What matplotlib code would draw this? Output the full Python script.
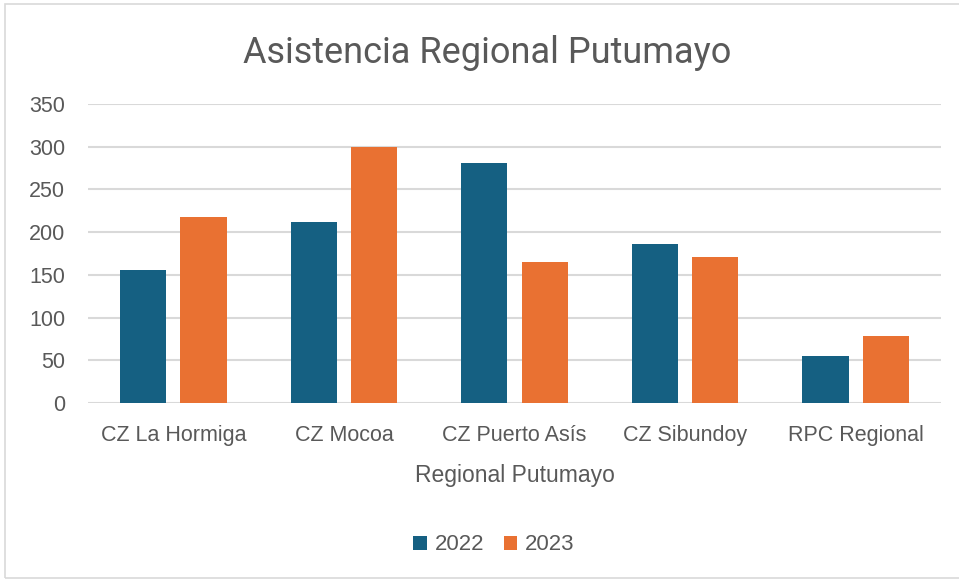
import numpy as np
import matplotlib.pyplot as plt
from matplotlib.patches import Rectangle

# Data
categories = ["CZ La Hormiga", "CZ Mocoa", "CZ Puerto Asís", "CZ Sibundoy", "RPC Regional"]
values_2022 = [156, 212, 281, 186, 55]
values_2023 = [218, 300, 165, 171, 78]
series_labels = ["2022", "2023"]

blue = "#156082"
orange = "#E97132"
text_gray = "#595959"

plt.rcParams['font.family'] = ['Liberation Sans', 'DejaVu Sans']

fig = plt.figure(figsize=(9.59, 5.81), dpi=100)
ax = fig.add_axes([88 / 959, 1 - 403 / 581, 853 / 959, 299 / 581])

x = np.arange(len(categories))
w = 0.27
off = 0.177
ax.bar(x - off, values_2022, w, color=blue, label=series_labels[0], zorder=3)
ax.bar(x + off, values_2023, w, color=orange, label=series_labels[1], zorder=3)

ax.set_xlim(-0.5, len(categories) - 0.5)
ax.set_ylim(0, 350)
ax.set_yticks(range(0, 351, 50))
ax.set_xticks(x)
ax.set_xticklabels(categories)
ax.tick_params(axis='both', length=0, labelsize=15.5, colors=text_gray)
ax.tick_params(axis='y', pad=16.5)
ax.tick_params(axis='x', pad=15.5)
ax.grid(axis='y', color="#D9D9D9", linewidth=1.5, zorder=0)
for s in ax.spines.values():
    s.set_visible(False)

ax.set_xlabel("Regional Putumayo", fontsize=16.5, color=text_gray, labelpad=13)
fig.suptitle("Asistencia Regional Putumayo", fontsize=26, color=text_gray, y=0.94,
             x=0.508, family=['Roboto', 'DejaVu Sans'])

fig.legend(loc='center', bbox_to_anchor=(494 / 959, 1 - 545 / 581), ncol=2, frameon=False,
           fontsize=16, labelcolor=text_gray, handlelength=0.6, handleheight=0.6,
           handletextpad=0.35, columnspacing=0.9)

# chart border
fig.patches.append(Rectangle((5 / 959, 3 / 581), 1.0, 1 - 7 / 581, transform=fig.transFigure,
                             fill=False, edgecolor="#D9D9D9", linewidth=1.2))

fig.savefig("out.png", dpi=100)
